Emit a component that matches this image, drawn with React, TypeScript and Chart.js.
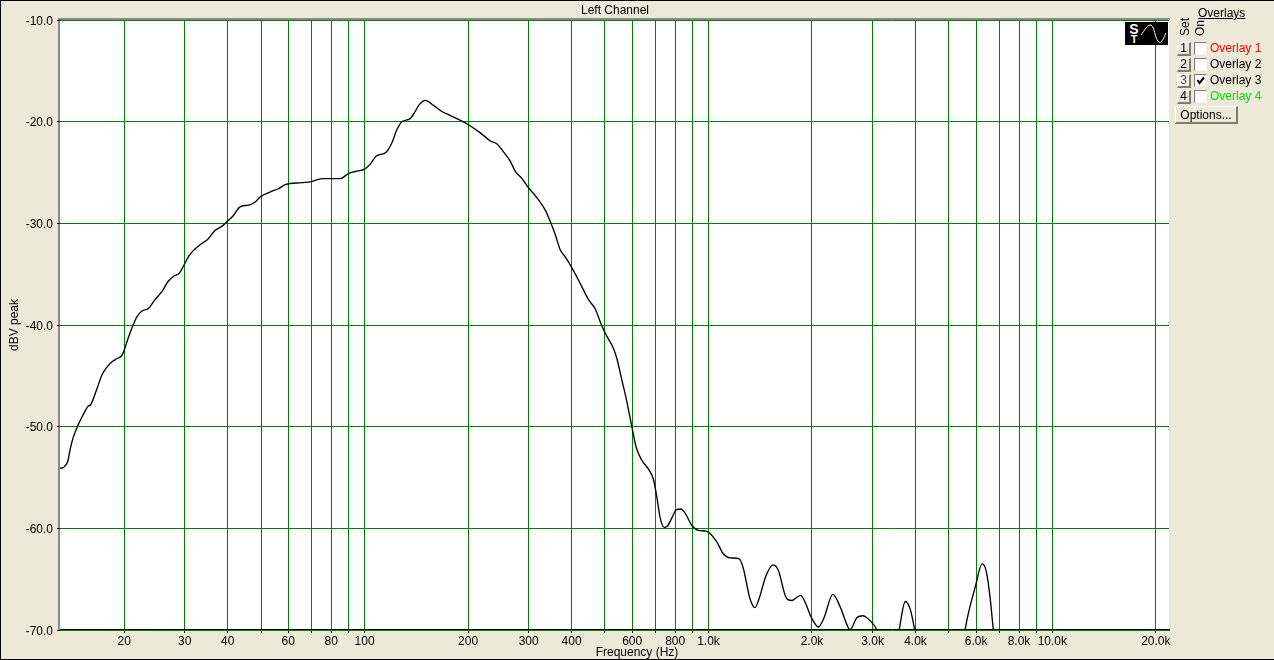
import React, { useEffect, useRef } from "react";
import { Chart, registerables } from "chart.js";

Chart.register(...registerables);

const frequencyHz = [
  12.9, 13.31, 13.71, 13.91, 14.2, 14.7, 15.1, 15.69, 16.0, 16.69, 17.29, 18.18, 19.08, 19.68, 19.98, 20.58, 21.17, 21.77,
  22.57, 23.46, 24.46, 25.76, 26.85, 27.85, 28.95, 29.85, 30.85, 31.95, 33.24, 34.94, 36.73, 38.43, 39.93, 41.62, 43.32,
  46.02, 48.11, 49.71, 53.2, 56.2, 58.8, 65.68, 69.98, 75.18, 84.98, 89.77, 93.97, 99.63, 103.7, 108.0, 115.5, 120, 124.1,
  128.4, 135.7, 140.3, 144.4, 150.1, 158.6, 167.8, 175.4, 185.5, 200.5, 217.1, 232.2, 242.7, 253.8, 265.4, 274.4, 287,
  299.8, 317.2, 335.3, 348.3, 358.4, 370.6, 383.2, 399.7, 423.6, 447.8, 468.2, 489.8, 506.4, 529.4, 541.5, 559.8, 576.1,
  598.5, 616, 640, 673, 692, 707.5, 723, 742.6, 759, 782, 805, 830, 855, 894, 934, 988, 1056, 1104, 1154, 1229, 1262, 1320,
  1365, 1404, 1469, 1542, 1595, 1687, 1744, 1853, 1906, 1993, 2088, 2168, 2299, 2414, 2553, 2582, 2700, 2812, 2954, 3068,
  3158, 3518, 3595, 3736, 3864, 3969, 4076, 5476, 5588, 5975, 6250, 6432, 6606, 6728, 6878, 21985,
];
const levelDbv = [
  -54.1, -54.0, -53.4, -52.3, -51.1, -49.8, -49.0, -48.0, -47.8, -46.2, -44.8, -43.8, -43.3, -43.0, -42.5, -41.2, -40.1,
  -39.2, -38.6, -38.4, -37.6, -36.7, -35.7, -35.2, -34.9, -34.1, -33.2, -32.6, -32.1, -31.6, -30.7, -30.3, -29.8, -29.2,
  -28.4, -28.2, -27.9, -27.4, -26.9, -26.6, -26.2, -26.0, -25.9, -25.6, -25.6, -25.1, -24.9, -24.7, -24.2, -23.4, -23.0,
  -22.1, -20.8, -20.0, -19.7, -19.0, -18.3, -17.9, -18.4, -19.0, -19.3, -19.7, -20.3, -21.1, -21.9, -22.2, -23.0, -23.9,
  -24.9, -25.6, -26.5, -27.5, -28.7, -30.0, -31.1, -32.6, -33.3, -34.3, -35.9, -37.5, -38.4, -40.1, -41.1, -42.3, -43.3,
  -45.4, -47.2, -50.0, -52.0, -53.3, -54.3, -55.2, -56.9, -58.9, -59.9, -59.8, -59.0, -58.2, -58.1, -58.5, -59.7, -60.2,
  -60.3, -61.3, -62.5, -62.9, -63.0, -63.9, -66.9, -67.8, -66.9, -64.7, -63.6, -64.1, -66.9, -67.1, -66.6, -67.2, -68.8,
  -69.7, -68.8, -66.5, -67.7, -69.8, -69.95, -68.8, -68.6, -69.1, -69.8, -71, -72, -69.8, -67.2, -68.0, -69.8, -72, -72,
  -69.8, -65.7, -63.5, -64.3, -67.1, -69.8, -72, -72,
];
const floorFrequencyHz = [13.01, 21985];
const floorDbv = [-69.95, -69.95];

const xTickValues = [
  20, 30, 40, 50, 60, 70, 80, 90, 100, 200, 300, 400, 500, 600, 700, 800, 900, 1000, 2000, 3000, 4000, 5000, 6000, 7000,
  8000, 9000, 10000, 20000,
];
const xTickLabels = [
  "20", "30", "40", "", "60", "", "80", "", "100", "200", "300", "400", "", "600", "", "800", "", "1.0k", "2.0k", "3.0k",
  "4.0k", "", "6.0k", "", "8.0k", "", "10.0k", "20.0k",
];
const overlayNames = ["Overlay 1", "Overlay 2", "Overlay 3", "Overlay 4"];
const overlayColors = ["#ff0000", "#000000", "#000000", "#00e000"];

const FONT = "'Liberation Sans', Arial, sans-serif";
const PANEL = "#ECE9D8";
const GREEN = "#008000";

const framePlugin = {
  id: "frame",
  beforeDraw(chart: any) {
    const { ctx, chartArea: a } = chart;
    ctx.save();
    ctx.fillStyle = "#ffffff";
    ctx.fillRect(a.left, a.top, a.right - a.left, a.bottom - a.top);
    ctx.fillStyle = "#8a8a8a";
    ctx.fillRect(a.left - 2, a.top - 2, 2, a.bottom - a.top + 2);
    ctx.fillRect(a.left - 2, a.top - 2, a.right - a.left + 2, 2);
    ctx.restore();
  },
  afterDraw(chart: any) {
    const { ctx, chartArea: a, width, height } = chart;
    ctx.save();
    ctx.fillStyle = "#e4e4e4";
    ctx.fillRect(a.right - 1, a.top, 1, a.bottom - a.top - 1);
    ctx.fillStyle = "#000000";
    ctx.fillRect(0, 0, width, 1);
    ctx.fillRect(0, 0, 1, height);
    ctx.fillRect(0, height - 1, width, 1);
    ctx.restore();
  },
};

const raised: React.CSSProperties = {
  position: "absolute",
  boxSizing: "border-box",
  background: PANEL,
  borderTop: "1px solid #ffffff",
  borderLeft: "1px solid #ffffff",
  borderRight: "2px solid #7f7d70",
  borderBottom: "2px solid #7f7d70",
  textAlign: "center",
  color: "#000",
};

function abs(left: number, top: number, extra: React.CSSProperties = {}): React.CSSProperties {
  return { position: "absolute", left, top, whiteSpace: "nowrap", ...extra };
}

export default function App() {
  const ref = useRef<HTMLCanvasElement | null>(null);

  useEffect(() => {
    const chart = new Chart(ref.current as HTMLCanvasElement, {
      type: "line",
      data: {
        datasets: [
          {
            label: "Floor",
            data: floorFrequencyHz.map((x, i) => ({ x, y: floorDbv[i] })),
            borderColor: "#000000",
            borderWidth: 1,
            pointRadius: 0,
            clip: 0,
          },
          {
            label: "Left Channel",
            data: frequencyHz.map((x, i) => ({ x, y: levelDbv[i] })),
            borderColor: "#000000",
            borderWidth: 1.35,
            pointRadius: 0,
            cubicInterpolationMode: "monotone",
            clip: 0,
          },
        ],
      } as any,
      plugins: [framePlugin as any],
      options: {
        animation: false,
        responsive: false,
        events: [],
        layout: { padding: 0 },
        plugins: {
          legend: { display: false },
          tooltip: { enabled: false },
          title: {
            display: true,
            text: "Left Channel",
            fullSize: false,
            color: "#000",
            font: { family: FONT, size: 12, weight: "normal", lineHeight: 1.2 },
            padding: { top: 3, bottom: 2.6 },
          },
          subtitle: {
            display: true,
            position: "bottom",
            text: "Frequency (Hz)",
            color: "#000",
            font: { family: FONT, size: 12, weight: "normal", lineHeight: 1.2 },
            padding: 0,
          },
        },
        scales: {
          x: {
            type: "logarithmic",
            min: 13.01,
            max: 21985,
            afterBuildTicks(scale: any) {
              scale.ticks = xTickValues.map((value) => ({ value }));
            },
            afterFit(scale: any) {
              scale.height = 15.6;
            },
            grid: { color: GREEN, lineWidth: 1, tickColor: "#000", tickLength: 3 },
            border: { color: "#000", display: false },
            ticks: {
              autoSkip: false,
              maxRotation: 0,
              color: "#000",
              padding: 1,
              font: { family: FONT, size: 12 },
              callback(value: any) {
                const i = xTickValues.indexOf(Number(value));
                return i >= 0 ? xTickLabels[i] : "";
              },
            },
          },
          y: {
            min: -70,
            max: -10,
            afterFit(scale: any) {
              scale.width = 60;
            },
            grid: { color: GREEN, lineWidth: 1, tickColor: "#000", tickLength: 3 },
            border: { display: false },
            title: {
              display: true,
              text: "dBV peak",
              color: "#000",
              font: { family: FONT, size: 12, lineHeight: 1.2 },
              padding: { top: 7, bottom: 0 },
            },
            ticks: {
              stepSize: 10,
              color: "#000",
              padding: 4,
              labelOffset: 1.5,
              font: { family: FONT, size: 12 },
              callback: (value: any) => Number(value).toFixed(1),
            },
          },
          y2: {
            position: "right",
            min: -70,
            max: -10,
            afterFit(scale: any) {
              scale.width = 104;
            },
            grid: { display: false },
            border: { display: false },
            ticks: { display: false },
          },
        },
      } as any,
    });
    return () => chart.destroy();
  }, []);

  const text: React.CSSProperties = { font: `12px ${FONT}`, color: "#000", lineHeight: "14px" };

  return (
    <div style={{ position: "absolute", left: 0, top: 0, width: 1274, height: 660, background: PANEL, overflow: "hidden" }}>
      <canvas ref={ref} width={1274} height={660} style={{ display: "block", position: "absolute", left: 0, top: 0 }} />

      <svg width={43} height={23} style={{ position: "absolute", left: 1125, top: 22, background: "#000" }}>
        <text x={9} y={12} textAnchor="middle" fontFamily={FONT} fontWeight="bold" fontSize={14} fill="#fff">S</text>
        <text x={9} y={21} textAnchor="middle" fontFamily={FONT} fontWeight="bold" fontSize={11} fill="#fff">T</text>
        <path d="M16 13 C20 8 22 3 25 3 C28 3 29 8 30 12 C31 16 33 20.5 35 20.5 C37 20.5 39 15 41 11" fill="none" stroke="#fff" strokeWidth={1} />
      </svg>

      <div style={{ ...text, ...abs(1198, 6), textDecoration: "underline" }}>Overlays</div>
      <div style={{ ...text, ...abs(1178, 19), height: 17, writingMode: "vertical-rl", transform: "rotate(180deg)" }}>Set</div>
      <div style={{ ...text, ...abs(1193, 19), height: 17, writingMode: "vertical-rl", transform: "rotate(180deg)" }}>On</div>

      {overlayNames.map((name, i) => {
        const top = 42 + i * 16;
        return (
          <React.Fragment key={name}>
            <div
              style={{
                ...raised,
                left: 1177,
                top,
                width: 14,
                height: 14,
                font: `12px/11px ${FONT}`,
                ...(i === 2
                  ? { color: "#555", backgroundImage: "repeating-conic-gradient(#ffffff 0 25%, #ECE9D8 0 50%)", backgroundSize: "2px 2px" }
                  : {}),
              }}
            >
              {i + 1}
            </div>
            <div
              style={{
                position: "absolute",
                boxSizing: "border-box",
                left: 1194,
                top: top,
                width: 13,
                height: 13,
                background: "#fff",
                borderTop: "1px solid #7f7d70",
                borderLeft: "1px solid #7f7d70",
                borderRight: "1px solid #f4f2e8",
                borderBottom: "1px solid #f4f2e8",
              }}
            >
              {i === 2 && (
                <svg width={11} height={11} style={{ position: "absolute", left: 0, top: 0 }}>
                  <path d="M2.5 5 L4.5 8 L9 2.5" fill="none" stroke="#000" strokeWidth={2} />
                </svg>
              )}
            </div>
            <div style={{ ...text, ...abs(1210, top - 1), color: overlayColors[i] }}>{name}</div>
          </React.Fragment>
        );
      })}

      <div style={{ ...raised, left: 1175, top: 106, width: 63, height: 18, font: `12px/16px ${FONT}` }}>Options...</div>
    </div>
  );
}
